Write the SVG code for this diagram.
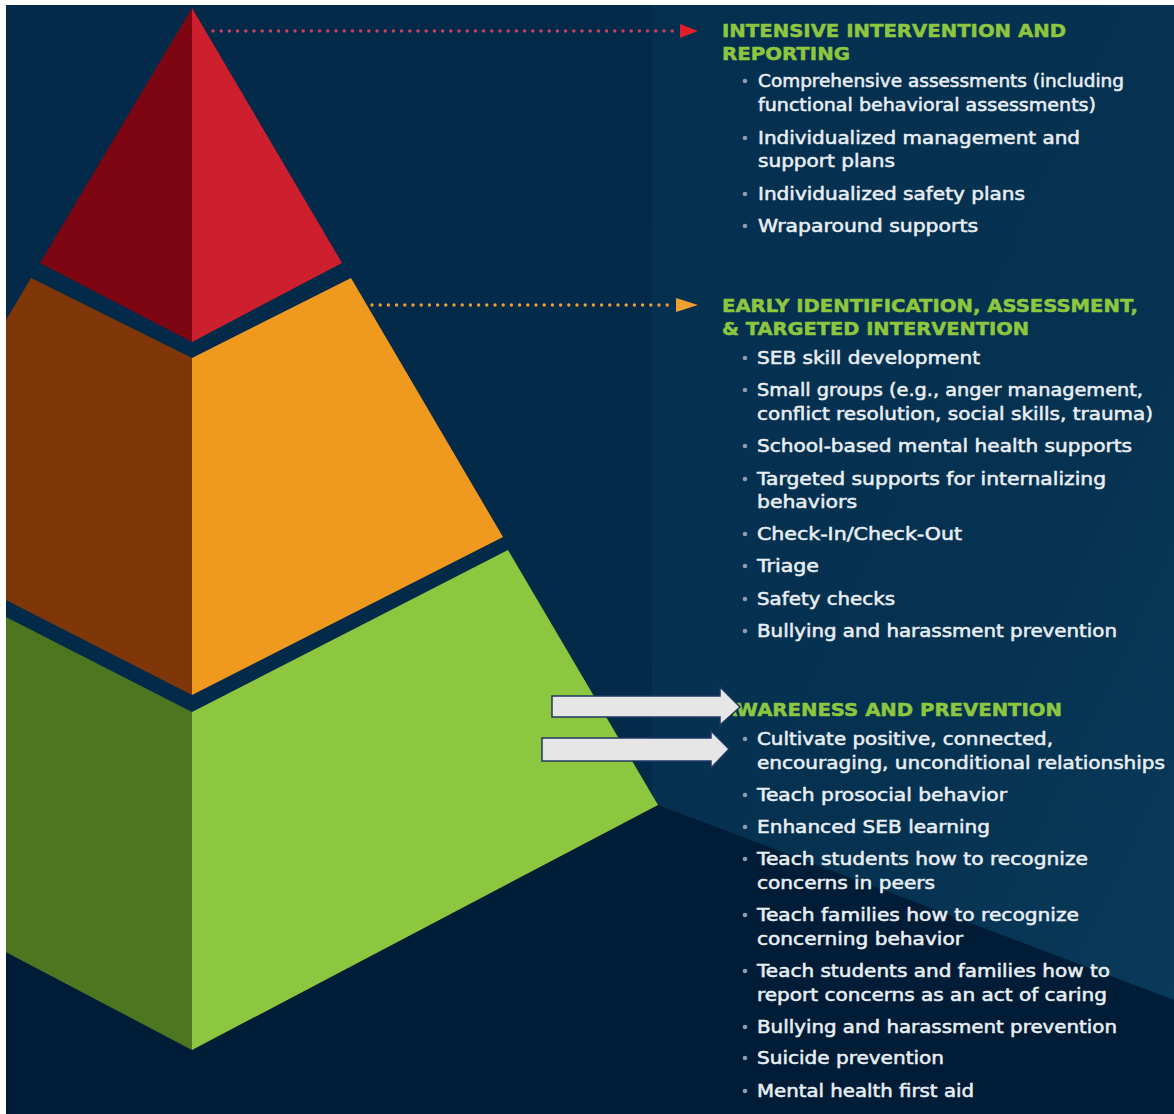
<svg xmlns="http://www.w3.org/2000/svg" width="1174" height="1114" viewBox="0 0 1174 1114">
<defs>
<style>
.h{font-family:"DejaVu Sans","Liberation Sans",sans-serif;font-weight:bold;font-size:18px;fill:#8dc63f;stroke:#8dc63f;stroke-width:0.5}
.t{font-family:"DejaVu Sans","Liberation Sans",sans-serif;font-size:18px;fill:#e9eef3;stroke:#e9eef3;stroke-width:0.55}
.b{fill:#8d9db0}
.dot{fill:none;stroke-width:3.4;stroke-linecap:round;stroke-dasharray:0 8.2}
.blk{fill:#e7e6e6;stroke:#1f3864;stroke-width:1.5}
</style>
<linearGradient id="pg" x1="0" y1="0" x2="1" y2="1">
<stop offset="0" stop-color="#052f4f"/>
<stop offset="0.6" stop-color="#063251"/>
<stop offset="1" stop-color="#0a3b5b"/>
</linearGradient>
</defs>
<g id="background">
<rect x="0" y="0" width="1174" height="1114" fill="#042a4a"/>
<rect x="652" y="0" width="522" height="1114" fill="url(#pg)"/>
<polygon points="0,949 192,1050 658,805 1174,1000 1174,1114 0,1114" fill="#001c36"/>
</g>
<g id="tier-green">
<polygon points="0,614 192,712 192,1050 0,949" fill="#4e7520"/>
<polygon points="192,712 508,550 658,805 192,1050" fill="#8dc63f"/>
</g>
<g id="tier-orange">
<polygon points="31,278 192,358 192,695 0,597 0,330" fill="#7f3608"/>
<polygon points="192,358 351,278 503,537 192,695" fill="#f0991f"/>
</g>
<g id="tier-red">
<polygon points="192,8 40,263 192,342" fill="#7e0613"/>
<polygon points="192,8 342,263 192,342" fill="#cd1f2e"/>
</g>
<g id="connectors">
<line class="dot" x1="213" y1="31" x2="676" y2="31" stroke="#d0405a"/>
<polygon points="680,24 698,31 680,38" fill="#e31e2b"/>
<line class="dot" x1="372" y1="305" x2="672" y2="305" stroke="#f0a030"/>
<polygon points="676,298 698,305 676,312" fill="#f0a030"/>
</g>
<g id="text-intensive">
<text class="h" x="722" y="37" textLength="344" lengthAdjust="spacingAndGlyphs">INTENSIVE INTERVENTION AND</text>
<text class="h" x="722" y="60" textLength="128" lengthAdjust="spacingAndGlyphs">REPORTING</text>
<circle class="b" cx="745" cy="81" r="2.3"/>
<text class="t" x="758" y="87" textLength="366" lengthAdjust="spacingAndGlyphs">Comprehensive assessments (including</text>
<text class="t" x="758" y="111" textLength="338" lengthAdjust="spacingAndGlyphs">functional behavioral assessments)</text>
<circle class="b" cx="745" cy="138" r="2.3"/>
<text class="t" x="758" y="144" textLength="322" lengthAdjust="spacingAndGlyphs">Individualized management and</text>
<text class="t" x="758" y="167" textLength="137" lengthAdjust="spacingAndGlyphs">support plans</text>
<circle class="b" cx="745" cy="194" r="2.3"/>
<text class="t" x="758" y="200" textLength="267" lengthAdjust="spacingAndGlyphs">Individualized safety plans</text>
<circle class="b" cx="745" cy="226" r="2.3"/>
<text class="t" x="758" y="232" textLength="220" lengthAdjust="spacingAndGlyphs">Wraparound supports</text>
</g>
<g id="text-early">
<text class="h" x="722" y="312" textLength="416" lengthAdjust="spacingAndGlyphs">EARLY IDENTIFICATION, ASSESSMENT,</text>
<text class="h" x="722" y="335" textLength="307" lengthAdjust="spacingAndGlyphs">&amp; TARGETED INTERVENTION</text>
<circle class="b" cx="745" cy="358" r="2.3"/>
<text class="t" x="757" y="364" textLength="223" lengthAdjust="spacingAndGlyphs">SEB skill development</text>
<circle class="b" cx="745" cy="390" r="2.3"/>
<text class="t" x="757" y="396" textLength="386" lengthAdjust="spacingAndGlyphs">Small groups (e.g., anger management,</text>
<text class="t" x="757" y="420" textLength="396" lengthAdjust="spacingAndGlyphs">conflict resolution, social skills, trauma)</text>
<circle class="b" cx="745" cy="446" r="2.3"/>
<text class="t" x="757" y="452" textLength="375" lengthAdjust="spacingAndGlyphs">School-based mental health supports</text>
<circle class="b" cx="745" cy="479" r="2.3"/>
<text class="t" x="757" y="485" textLength="349" lengthAdjust="spacingAndGlyphs">Targeted supports for internalizing</text>
<text class="t" x="757" y="508" textLength="100" lengthAdjust="spacingAndGlyphs">behaviors</text>
<circle class="b" cx="745" cy="534" r="2.3"/>
<text class="t" x="757" y="540" textLength="205" lengthAdjust="spacingAndGlyphs">Check-In/Check-Out</text>
<circle class="b" cx="745" cy="566" r="2.3"/>
<text class="t" x="757" y="572" textLength="62" lengthAdjust="spacingAndGlyphs">Triage</text>
<circle class="b" cx="745" cy="599" r="2.3"/>
<text class="t" x="757" y="605" textLength="138" lengthAdjust="spacingAndGlyphs">Safety checks</text>
<circle class="b" cx="745" cy="631" r="2.3"/>
<text class="t" x="757" y="637" textLength="360" lengthAdjust="spacingAndGlyphs">Bullying and harassment prevention</text>
</g>
<g id="text-awareness">
<text class="h" x="722" y="716" textLength="340" lengthAdjust="spacingAndGlyphs">AWARENESS AND PREVENTION</text>
<circle class="b" cx="745" cy="739" r="2.3"/>
<text class="t" x="757" y="745" textLength="296" lengthAdjust="spacingAndGlyphs">Cultivate positive, connected,</text>
<text class="t" x="757" y="769" textLength="408" lengthAdjust="spacingAndGlyphs">encouraging, unconditional relationships</text>
<circle class="b" cx="745" cy="795" r="2.3"/>
<text class="t" x="757" y="801" textLength="250" lengthAdjust="spacingAndGlyphs">Teach prosocial behavior</text>
<circle class="b" cx="745" cy="827" r="2.3"/>
<text class="t" x="757" y="833" textLength="233" lengthAdjust="spacingAndGlyphs">Enhanced SEB learning</text>
<circle class="b" cx="745" cy="859" r="2.3"/>
<text class="t" x="757" y="865" textLength="331" lengthAdjust="spacingAndGlyphs">Teach students how to recognize</text>
<text class="t" x="757" y="889" textLength="178" lengthAdjust="spacingAndGlyphs">concerns in peers</text>
<circle class="b" cx="745" cy="915" r="2.3"/>
<text class="t" x="757" y="921" textLength="322" lengthAdjust="spacingAndGlyphs">Teach families how to recognize</text>
<text class="t" x="757" y="945" textLength="206" lengthAdjust="spacingAndGlyphs">concerning behavior</text>
<circle class="b" cx="745" cy="971" r="2.3"/>
<text class="t" x="757" y="977" textLength="353" lengthAdjust="spacingAndGlyphs">Teach students and families how to</text>
<text class="t" x="757" y="1001" textLength="350" lengthAdjust="spacingAndGlyphs">report concerns as an act of caring</text>
<circle class="b" cx="745" cy="1027" r="2.3"/>
<text class="t" x="757" y="1033" textLength="360" lengthAdjust="spacingAndGlyphs">Bullying and harassment prevention</text>
<circle class="b" cx="745" cy="1058" r="2.3"/>
<text class="t" x="757" y="1064" textLength="187" lengthAdjust="spacingAndGlyphs">Suicide prevention</text>
<circle class="b" cx="745" cy="1091" r="2.3"/>
<text class="t" x="757" y="1097" textLength="217" lengthAdjust="spacingAndGlyphs">Mental health first aid</text>
</g>
<g id="callout-arrows">
<polygon class="blk" points="552,696 720,696 720,687 740,707 720,725 720,717 552,717"/>
<polygon class="blk" points="542,738 711,738 711,731 729,749 711,768 711,761 542,761"/>
</g>
<g id="frame">
<rect x="0" y="0" width="1174" height="5" fill="#ffffff"/>
<rect x="0" y="0" width="6" height="1114" fill="#ffffff"/>
</g>
</svg>
